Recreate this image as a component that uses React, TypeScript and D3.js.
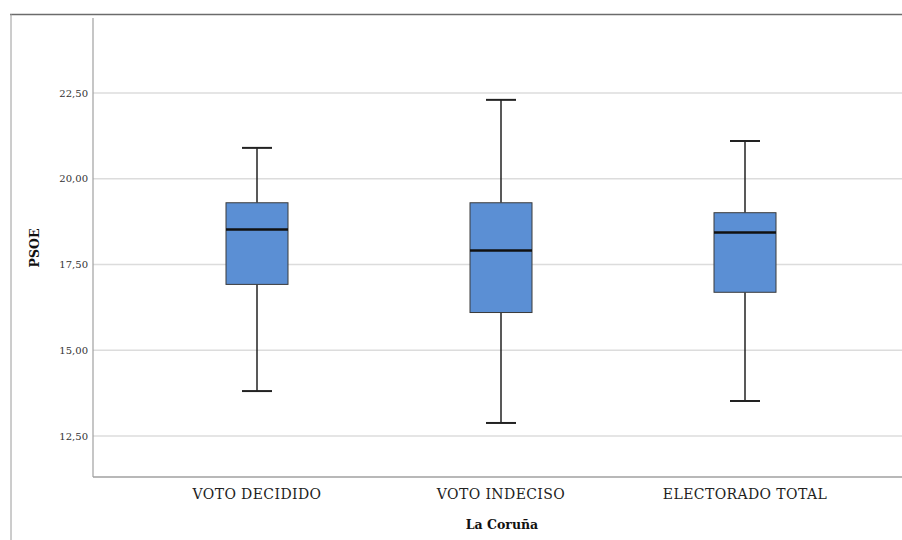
import React from "react";
import * as d3 from "d3";

const categories = ["VOTO DECIDIDO", "VOTO INDECISO", "ELECTORADO TOTAL"];
const whiskerLow = [13.81, 12.88, 13.52];
const q1 = [16.92, 16.1, 16.69];
const median = [18.52, 17.91, 18.43];
const q3 = [19.3, 19.3, 19.01];
const whiskerHigh = [20.9, 22.3, 21.1];
const yTicks = [12.5, 15, 17.5, 20, 22.5];
const yTickLabels = ["12,50", "15,00", "17,50", "20,00", "22,50"];

export default function App() {
  const W = 902, H = 540;
  const plotLeft = 93, plotRight = 902, plotTop = 18, plotBottom = 477;
  const y = d3.scaleLinear().domain([12.5, 22.5]).range([436, 93]);
  const x = d3.scalePoint<string>().domain(categories).range([257, 745]);
  const boxW = 62, capW = 30;
  const font = "DejaVu Serif, Liberation Serif, serif";
  const fill = "#5B8FD4";

  return (
    <svg width={W} height={H} style={{ position: "absolute", left: 0, top: 0, background: "#fff" }}>
      <rect x={0} y={0} width={W} height={H} fill="#fff" />
      {/* outer frame */}
      <line x1={10} x2={W} y1={14.5} y2={14.5} stroke="#6b6b6b" strokeWidth={1.5} />
      <line x1={11} x2={11} y1={14} y2={H} stroke="#9a9a9a" strokeWidth={1} />
      {/* gridlines */}
      {yTicks.map((t) => (
        <line key={t} x1={plotLeft} x2={plotRight} y1={y(t)} y2={y(t)} stroke="#dcdcdc" strokeWidth={1.5} />
      ))}
      {/* axes */}
      <line x1={plotLeft} x2={plotLeft} y1={plotTop} y2={plotBottom} stroke="#a0a0a0" strokeWidth={1.2} />
      <line x1={plotLeft} x2={plotRight} y1={plotBottom} y2={plotBottom} stroke="#a0a0a0" strokeWidth={1.5} />
      {yTicks.map((t, i) => (
        <text key={t} x={88} y={y(t) + 3.5} textAnchor="end" fontFamily={font} fontSize={10} fill="#333">
          {yTickLabels[i]}
        </text>
      ))}
      {/* boxes */}
      {categories.map((c, i) => {
        const cx = x(c) as number;
        return (
          <g key={c}>
            <line x1={cx} x2={cx} y1={y(whiskerHigh[i])} y2={y(q3[i])} stroke="#222" strokeWidth={1.5} />
            <line x1={cx} x2={cx} y1={y(q1[i])} y2={y(whiskerLow[i])} stroke="#222" strokeWidth={1.5} />
            <line x1={cx - capW / 2} x2={cx + capW / 2} y1={y(whiskerHigh[i])} y2={y(whiskerHigh[i])} stroke="#222" strokeWidth={2} />
            <line x1={cx - capW / 2} x2={cx + capW / 2} y1={y(whiskerLow[i])} y2={y(whiskerLow[i])} stroke="#222" strokeWidth={2} />
            <rect x={cx - boxW / 2} y={y(q3[i])} width={boxW} height={y(q1[i]) - y(q3[i])} fill={fill} stroke="#3a3a3a" strokeWidth={1} />
            <line x1={cx - boxW / 2} x2={cx + boxW / 2} y1={y(median[i])} y2={y(median[i])} stroke="#111" strokeWidth={2.5} />
            <text x={cx} y={499} textAnchor="middle" fontFamily={font} fontSize={14} letterSpacing={0.4} fill="#222">
              {c}
            </text>
          </g>
        );
      })}
      <text x={502} y={529} textAnchor="middle" fontFamily={font} fontSize={12.5} fontWeight="bold" fill="#111">
        La Coruña
      </text>
      <text
        transform={`translate(39, 248) rotate(-90)`}
        textAnchor="middle"
        fontFamily={font}
        fontSize={12.5}
        fontWeight="bold"
        fill="#111"
      >
        PSOE
      </text>
    </svg>
  );
}
